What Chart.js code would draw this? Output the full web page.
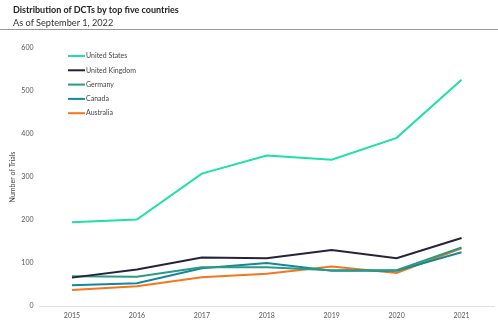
<!DOCTYPE html>
<html>
<head>
<meta charset="utf-8">
<script src="https://cdn.jsdelivr.net/npm/chart.js@4"></script>
<style>
  html, body { margin: 0; padding: 0; background: #fff; }
  #wrap { position: relative; width: 498px; height: 323px; font-family: Lato, "Open Sans", sans-serif; }
  #title { position: absolute; left: 13px; top: 4px; font-size: 9px; font-weight: bold; color: #222; }
  #subtitle { position: absolute; left: 13px; top: 17px; font-size: 9.2px; color: #333; }
  #rule { position: absolute; left: 0; top: 29px; width: 498px; height: 1px; background: #999; }
  #chart { position: absolute; left: 0; top: 0; }
</style>
</head>
<body>
<div id="wrap">
  <canvas id="chart" width="498" height="323"></canvas>
  <div id="title">Distribution of DCTs by top five countries</div>
  <div id="subtitle">As of September 1, 2022</div>
  <div id="rule"></div>
</div>
<script>
const years = ['2015', '2016', '2017', '2018', '2019', '2020', '2021'];
const unitedStates = [195, 201, 308, 350, 340, 391, 526];
const unitedKingdom = [66, 85, 113, 111, 130, 111, 158];
const germany = [69, 68, 90, 90, 83, 83, 136];
const canada = [48, 53, 88, 100, 82, 82, 125];
const australia = [37, 46, 67, 75, 92, 77, 134];

// legend drawn inside the plot area, top-left, one item per row
const insideLegend = {
    id: 'insideLegend',
    afterDraw(chart) {
        const ctx = chart.ctx;
        ctx.save();
        ctx.font = '7px Lato, "Open Sans", sans-serif';
        ctx.textBaseline = 'middle';
        chart.data.datasets.forEach((ds, i) => {
            const y = 56 + i * 14.3;
            ctx.strokeStyle = ds.borderColor;
            ctx.lineWidth = 2;
            ctx.beginPath();
            ctx.moveTo(68, y);
            ctx.lineTo(85, y);
            ctx.stroke();
            ctx.fillStyle = '#444';
            ctx.fillText(ds.label, 86, y);
        });
        ctx.restore();
    }
};

const lineStyle = { borderWidth: 2, pointRadius: 0, tension: 0, fill: false };

new Chart(document.getElementById('chart').getContext('2d'), {
    type: 'line',
    data: {
        labels: years,
        datasets: [
            { label: 'United States', data: unitedStates, borderColor: '#1fe0a8', ...lineStyle },
            { label: 'United Kingdom', data: unitedKingdom, borderColor: '#25233a', ...lineStyle },
            { label: 'Germany', data: germany, borderColor: '#2a9a84', ...lineStyle },
            { label: 'Canada', data: canada, borderColor: '#14879b', ...lineStyle },
            { label: 'Australia', data: australia, borderColor: '#f5761e', ...lineStyle }
        ]
    },
    options: {
        responsive: false,
        animation: false,
        layout: { padding: { top: 48, right: 4, bottom: 0, left: 7 } },
        plugins: {
            legend: { display: false },
            tooltip: { enabled: false }
        },
        scales: {
            x: {
                offset: true,
                grid: { display: false, drawTicks: false },
                border: { display: true, color: '#e0e0e0' },
                ticks: { color: '#555', font: { size: 7, family: 'Lato' }, padding: 6 },
                afterFit(axis) { axis.height = 17; }
            },
            y: {
                min: 0,
                max: 600,
                grid: { display: false, drawTicks: false },
                border: { display: false },
                ticks: { stepSize: 100, color: '#555', font: { size: 7, family: 'Lato' }, padding: 6 },
                title: { display: true, text: 'Number of Trials', color: '#444', font: { size: 7, family: 'Lato' }, padding: 2 },
                afterFit(axis) { axis.width = 32.5; }
            }
        }
    },
    plugins: [insideLegend]
});
</script>
</body>
</html>
